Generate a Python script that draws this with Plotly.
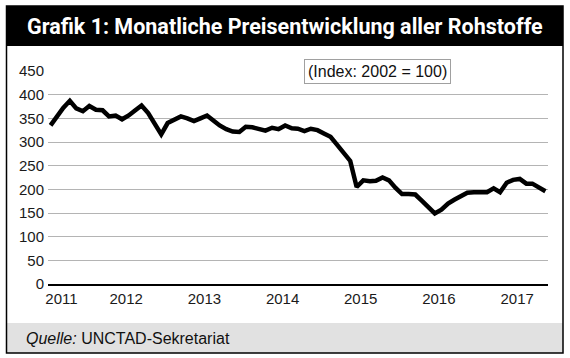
import plotly.graph_objects as go
import pandas as pd

# Monthly dates Jan 2011 .. May 2017
months = pd.date_range("2011-01-01", "2017-05-01", freq="MS")

index_values = [
    335, 356, 372, 387, 371, 365, 376, 368, 367, 354, 356, 348,   # 2011
    356, 367, 377, 361, 338, 316, 340, 348, 354, 350, 344, 350,   # 2012
    356, 345, 335, 327, 322, 321, 332, 331, 328, 324, 330, 327,   # 2013
    335, 329, 328, 323, 328, 325, 318, 311, 294, 277, 260, 205,   # 2014
    219, 217, 218, 225, 219, 203, 190, 190, 189, 176, 163, 149,   # 2015
    157, 170, 178, 187, 193, 194, 194, 194, 202, 194, 214, 220,   # 2016
    222, 212, 212, 205, 196,                                      # 2017
]

year_labels = ["2011", "2012", "2013", "2014", "2015", "2016", "2017"]
year_tick_pos = ["2011-02-21", "2011-12-20", "2012-12-20", "2013-12-20",
                 "2014-12-20", "2015-12-20", "2016-12-20"]
y_ticks = [0, 50, 100, 150, 200, 250, 300, 350, 400, 450]

title_text = "Grafik 1: Monatliche Preisentwicklung aller Rohstoffe"
source_text = "<i>Quelle:</i> UNCTAD-Sekretariat"
note_text = "(Index: 2002 = 100)"

fig = go.Figure()
fig.add_trace(go.Scatter(
    x=months, y=index_values, mode="lines",
    line=dict(color="black", width=4.5),
    hoverinfo="skip", showlegend=False,
))

L, R, T, B = 48, 22, 71, 74
W, H = 570, 358
pw, ph = W - L - R, H - T - B

def px_x(p):
    return (p - L) / pw

def px_y(p):
    return (H - B - p) / ph

tick_font = dict(family="Liberation Sans, Arial, sans-serif", size=15, color="#1a1a1a")

fig.update_layout(
    width=W, height=H,
    margin=dict(l=L, r=R, t=T, b=B, pad=0),
    paper_bgcolor="white", plot_bgcolor="white",
    xaxis=dict(
        type="date",
        range=["2010-12-20", "2017-05-13"],
        tickvals=year_tick_pos, ticktext=year_labels,
        showgrid=False, zeroline=False,
        showline=True, linecolor="black", linewidth=1.5,
        ticks="", tickfont=tick_font,
    ),
    yaxis=dict(
        range=[0, 450], tickvals=y_ticks,
        showgrid=True, gridcolor="#b4b4b4", gridwidth=1,
        zeroline=False, showline=False,
        ticks="", tickfont=tick_font, ticklabelstandoff=3,
    ),
    shapes=[
        # title band
        dict(type="rect", xref="paper", yref="paper", layer="below",
             x0=px_x(6), x1=px_x(563), y0=px_y(46), y1=px_y(6),
             fillcolor="black", line=dict(width=0)),
        # footer band
        dict(type="rect", xref="paper", yref="paper", layer="below",
             x0=px_x(6), x1=px_x(563), y0=px_y(353), y1=px_y(323),
             fillcolor="#e1e1e1", line=dict(width=0)),
        # outer frame
        dict(type="rect", xref="paper", yref="paper", layer="above",
             x0=px_x(6.5), x1=px_x(563), y0=px_y(353), y1=px_y(6),
             fillcolor="rgba(0,0,0,0)", line=dict(color="black", width=1.5)),
    ],
    annotations=[
        dict(text=f"<b>{title_text}</b>", xref="paper", yref="paper",
             x=px_x(285), y=px_y(26), xanchor="center", yanchor="middle",
             showarrow=False,
             font=dict(family="Liberation Sans Narrow, Roboto, Liberation Sans, sans-serif",
                       size=21.5, color="white")),
        dict(text=source_text, xref="paper", yref="paper",
             x=px_x(24), y=px_y(338), xanchor="left", yanchor="middle",
             showarrow=False,
             font=dict(family="Liberation Sans, Arial, sans-serif", size=16, color="#111111")),
        dict(text=note_text, xref="paper", yref="paper",
             x=px_x(377), y=px_y(71.5), xanchor="center", yanchor="middle",
             showarrow=False, bgcolor="white", bordercolor="#a0a0a0", borderwidth=1,
             borderpad=3,
             font=dict(family="Liberation Sans, Arial, sans-serif", size=16, color="#111111")),
    ],
)

fig.write_html(
    "out.html",
    config={"displayModeBar": False},
    post_script="document.body.style.margin='0';document.body.style.overflow='hidden';",
)
